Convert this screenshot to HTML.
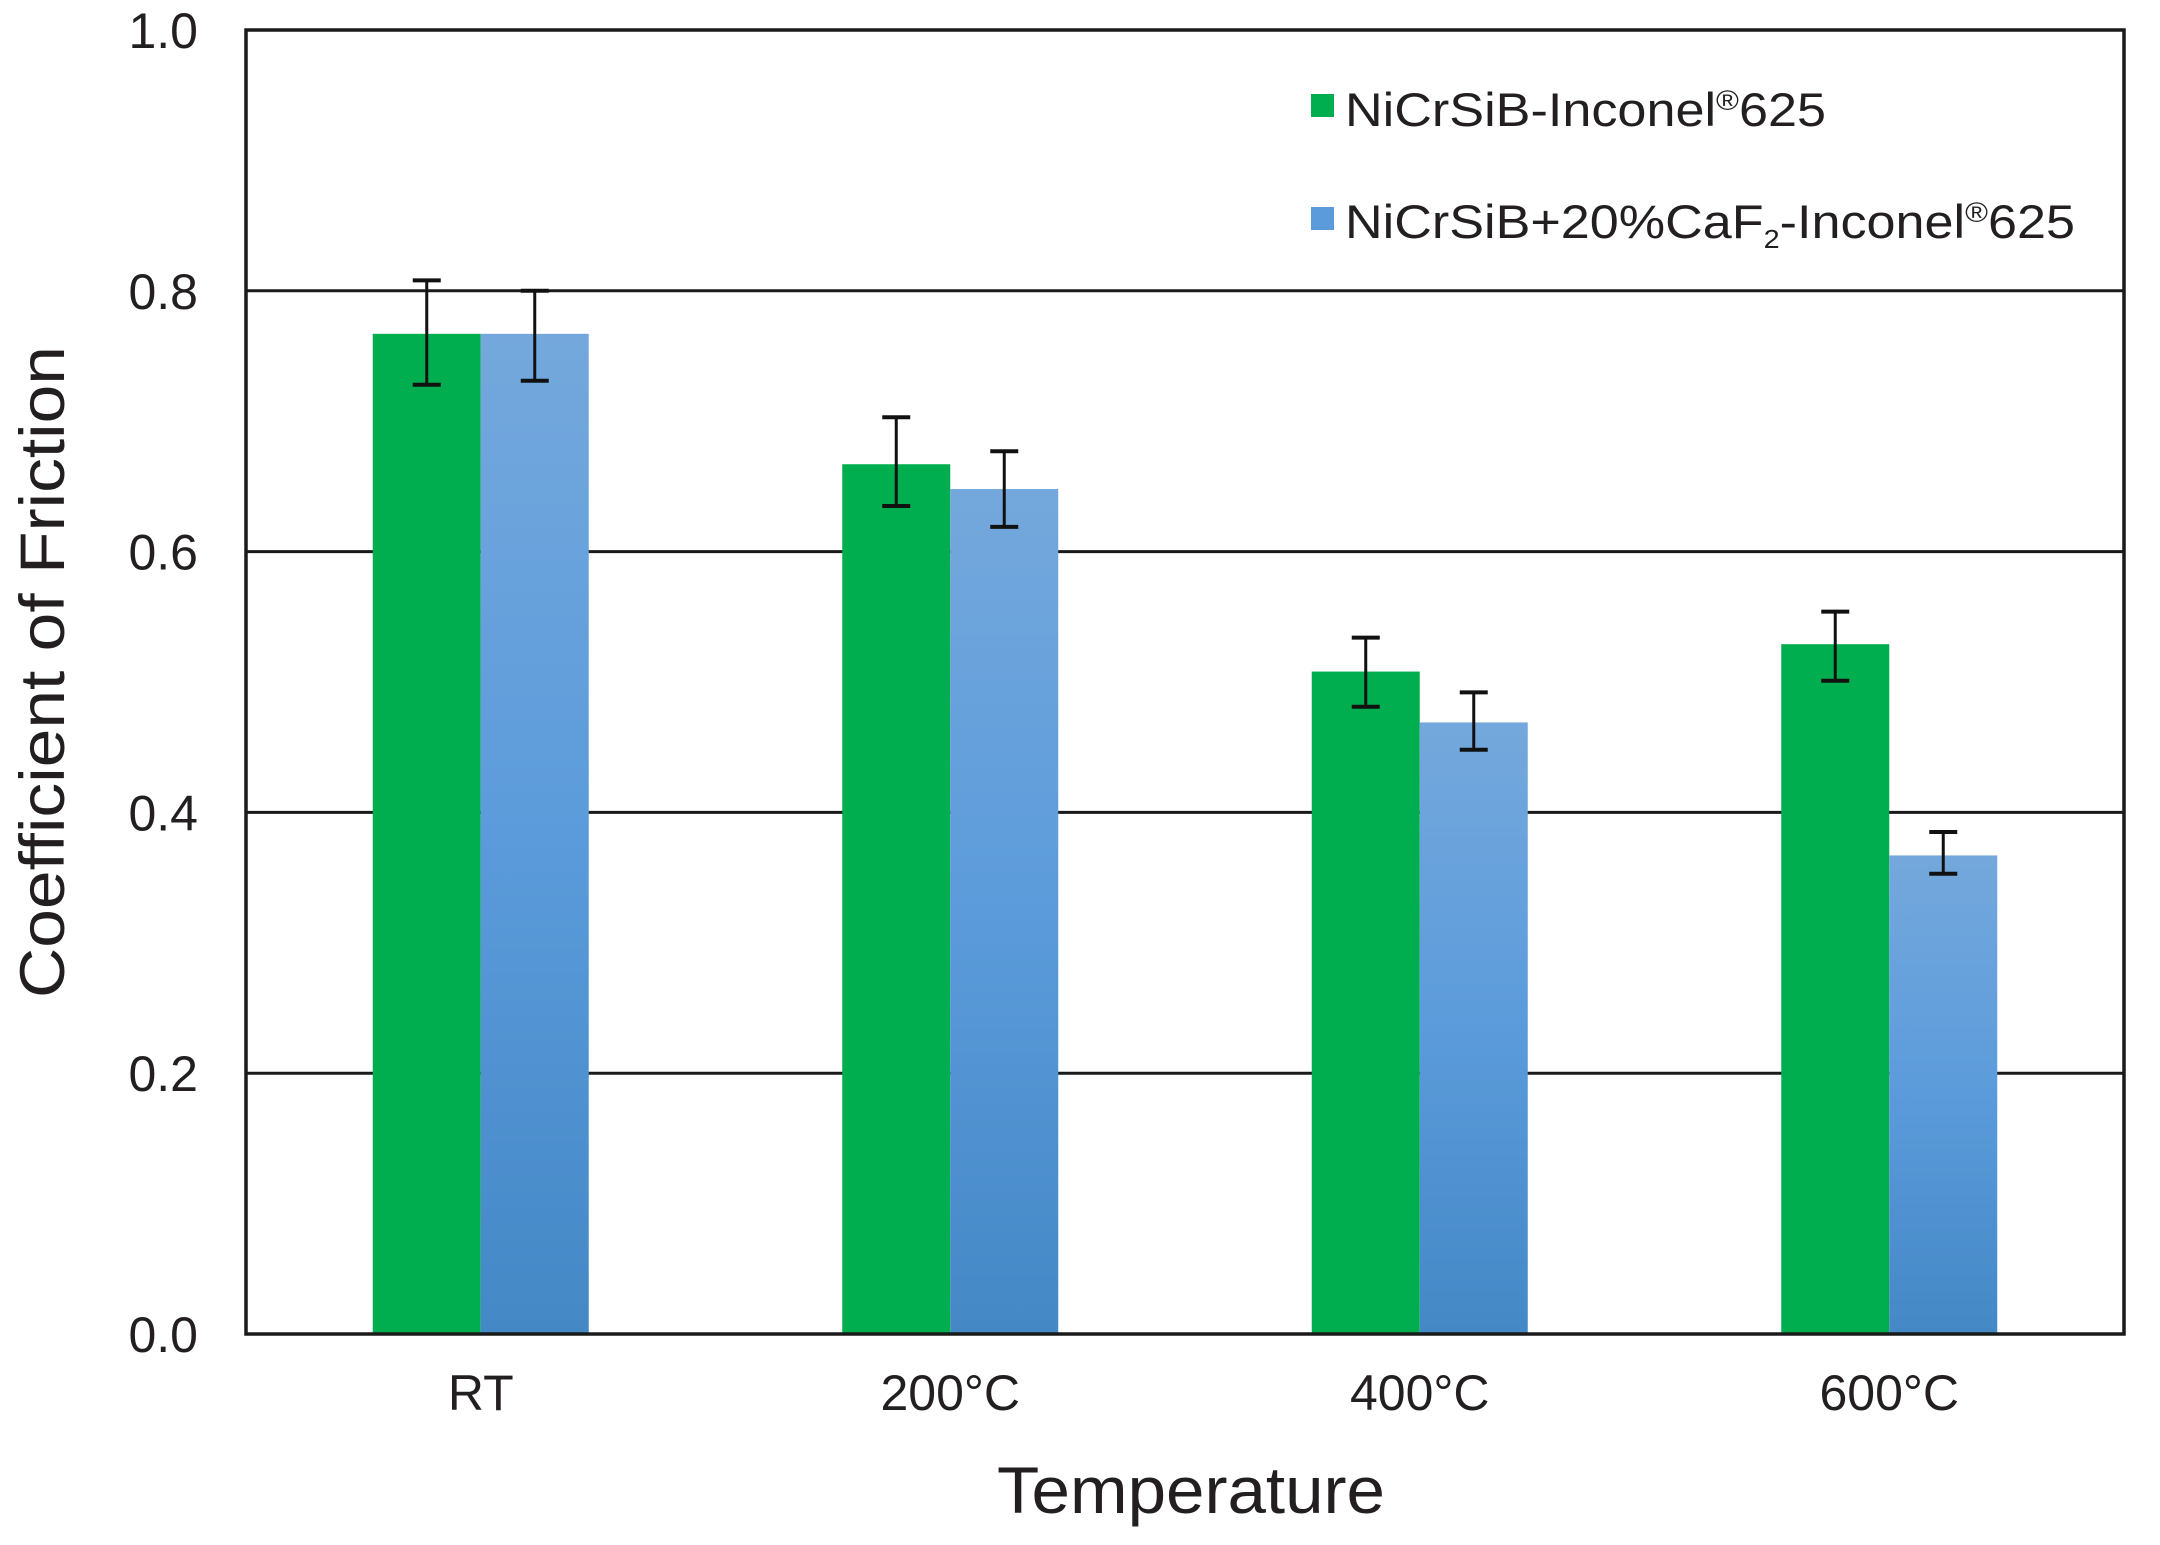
<!DOCTYPE html>
<html><head><meta charset="utf-8"><style>
html,body{margin:0;padding:0;background:#fff}
svg{display:block;font-family:"Liberation Sans",Arial,sans-serif}
</style></head><body>
<svg id="chart" width="2160" height="1545" viewBox="0 0 2160 1545">
<defs>
<linearGradient id="blueGrad" x1="0" y1="0" x2="0" y2="1">
<stop offset="0" stop-color="#74a8dc"/><stop offset="0.5" stop-color="#5b9bdb"/><stop offset="1" stop-color="#4488c6"/>
</linearGradient>
</defs>
<g id="grid"></g>
<g id="bars"></g>
<g id="errs"></g>
<rect x="246" y="30" width="1878" height="1304" fill="none" stroke="#1a1a1a" stroke-width="3.5"/>
<g id="yticks"></g>
<g id="xticks"></g>
<text x="0" y="0" transform="translate(64,672) rotate(-90)" text-anchor="middle" font-size="63" textLength="652" lengthAdjust="spacingAndGlyphs" fill="#231f20">Coefficient of Friction</text>
<text x="1191" y="1513" text-anchor="middle" font-size="66" textLength="388" lengthAdjust="spacingAndGlyphs" fill="#231f20">Temperature</text>
<g>
<g>
<rect x="1311" y="94" width="23" height="23" fill="#00ae4f"/>
<text x="1345" y="126" font-size="47" textLength="481" lengthAdjust="spacingAndGlyphs" fill="#231f20">NiCrSiB-Inconel<tspan font-size="28" dy="-16">®</tspan><tspan dy="16">625</tspan></text>
</g>
<g>
<rect x="1311" y="207" width="23" height="23" fill="#5b9bdb"/>
<text x="1345" y="238" font-size="47" textLength="730" lengthAdjust="spacingAndGlyphs" fill="#231f20">NiCrSiB+20%CaF<tspan font-size="26" dy="10">2</tspan><tspan dy="-10">-Inconel</tspan><tspan font-size="28" dy="-16">®</tspan><tspan dy="16">625</tspan></text>
</g>
</g>
</svg>
<script>
const categories = ["RT", "200°C", "400°C", "600°C"];
const greenValues = [0.767, 0.667, 0.508, 0.529];
const greenErrHigh = [0.808, 0.703, 0.534, 0.554];
const greenErrLow = [0.728, 0.635, 0.481, 0.501];
const blueValues = [0.767, 0.648, 0.469, 0.367];
const blueErrHigh = [0.800, 0.677, 0.492, 0.385];
const blueErrLow = [0.731, 0.619, 0.448, 0.353];
const yTicks = [0.0, 0.2, 0.4, 0.6, 0.8, 1.0];
const yTickLabels = ["0.0", "0.2", "0.4", "0.6", "0.8", "1.0"];

const NS = "http://www.w3.org/2000/svg";
const L = 246, R = 2124, T = 30, B = 1334;
const yScale = v => B - (v / 1.0) * (B - T);
const band = (R - L) / categories.length;
const xCenter = i => L + band * (i + 0.5);
const barW = 108;
function mk(tag, attrs, parent) {
  const e = document.createElementNS(NS, tag);
  for (const k in attrs) e.setAttribute(k, attrs[k]);
  parent.appendChild(e);
  return e;
}
const grid = document.getElementById('grid');
const yt = document.getElementById('yticks');
yTicks.forEach((v, i) => {
  if (v > 0 && v < 1) {
    const ln = mk('line', {x1: L, x2: R, y1: yScale(v), y2: yScale(v), stroke: '#1a1a1a', 'stroke-width': 3}, grid);
    
    
  }
  const t = mk('text', {x: 198, y: yScale(v) + 18, 'text-anchor': 'end', 'font-size': 50, fill: '#231f20'}, yt);
  t.textContent = yTickLabels[i];
  
  
});
const bars = document.getElementById('bars');
const errs = document.getElementById('errs');
const xt = document.getElementById('xticks');
function errBar(cx, hi, lo) {
  const g = mk('g', {stroke: '#111', 'stroke-width': 3}, errs);
  
  
  mk('line', {x1: cx, x2: cx, y1: yScale(hi), y2: yScale(lo)}, g);
  mk('line', {x1: cx - 14, x2: cx + 14, y1: yScale(hi), y2: yScale(hi), 'stroke-width': 4}, g);
  mk('line', {x1: cx - 14, x2: cx + 14, y1: yScale(lo), y2: yScale(lo), 'stroke-width': 4}, g);
}
categories.forEach((c, i) => {
  const cx = xCenter(i);
  const g1 = mk('rect', {x: cx - barW, y: yScale(greenValues[i]), width: barW, height: B - yScale(greenValues[i]), fill: '#00ae4f'}, bars);
  
  
  const b1 = mk('rect', {x: cx, y: yScale(blueValues[i]), width: barW, height: B - yScale(blueValues[i]), fill: 'url(#blueGrad)'}, bars);
  
  
  errBar(cx - barW / 2, greenErrHigh[i], greenErrLow[i]);
  errBar(cx + barW / 2, blueErrHigh[i], blueErrLow[i]);
  const t = mk('text', {x: cx, y: 1410, 'text-anchor': 'middle', 'font-size': 50, fill: '#231f20'}, xt);
  t.textContent = c;
  
  
});
</script>
</body></html>
